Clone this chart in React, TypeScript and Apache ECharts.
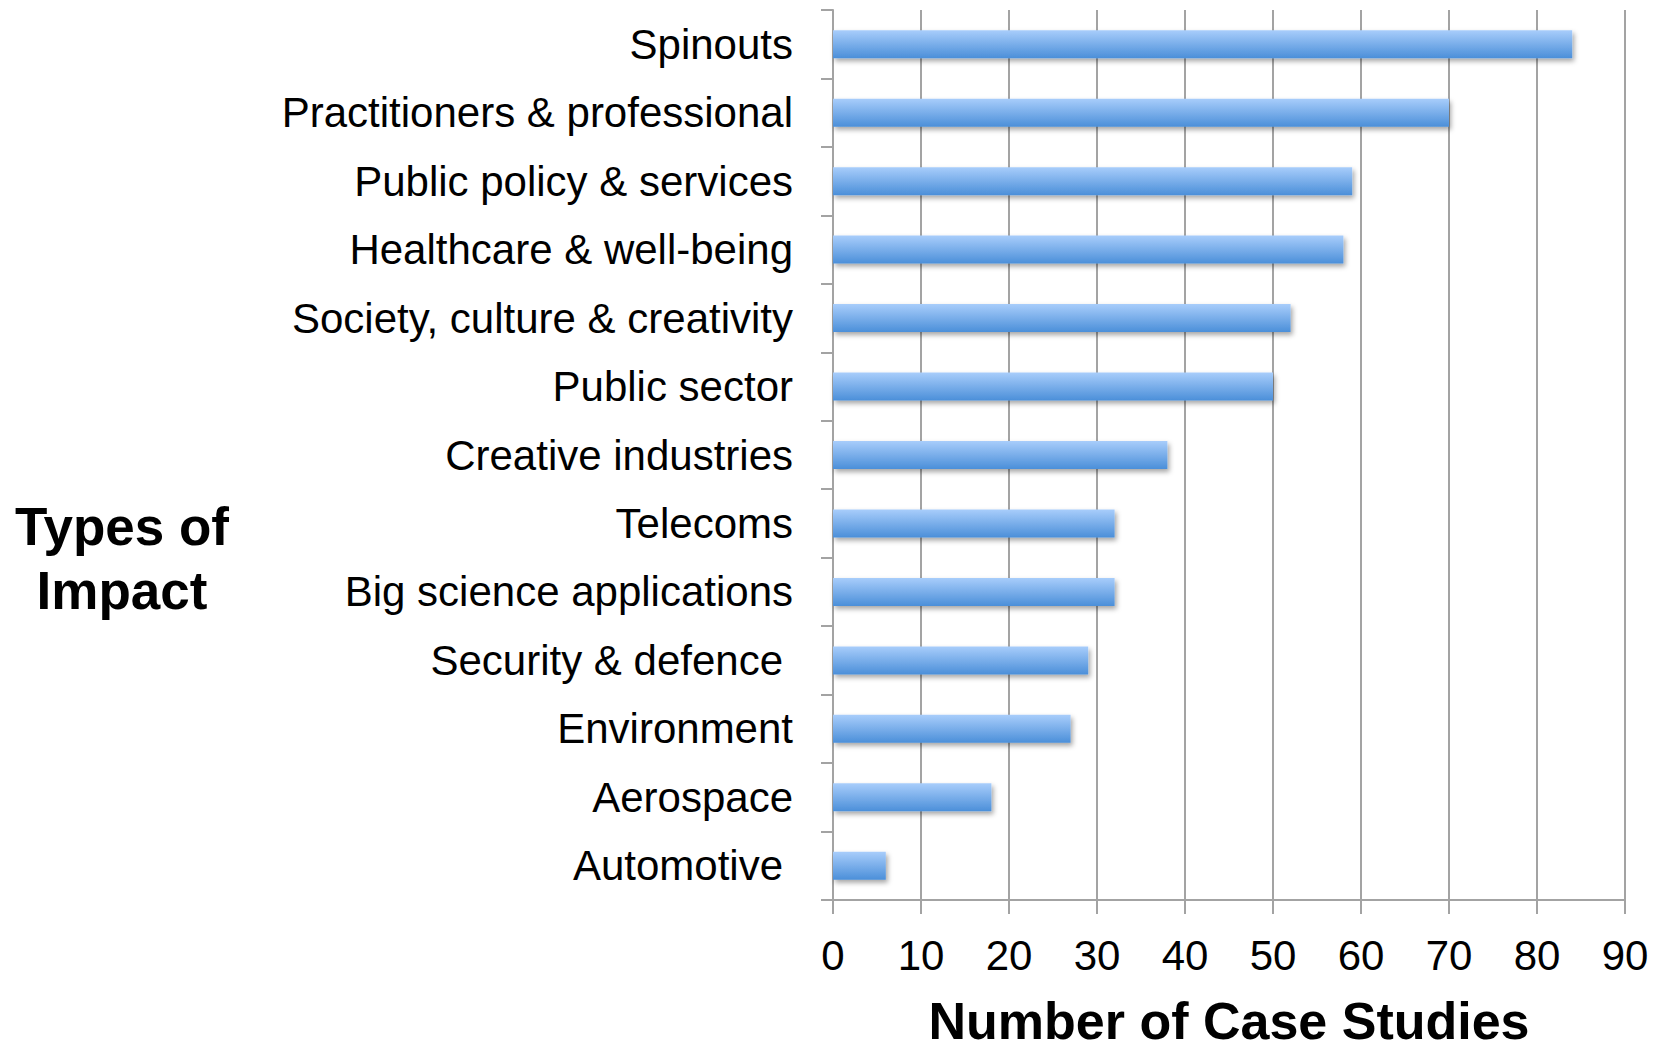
import React, { useEffect, useRef } from "react";
import * as echarts from "echarts";

const categories = [
  "Spinouts",
  "Practitioners & professional",
  "Public policy & services",
  "Healthcare & well-being",
  "Society, culture & creativity",
  "Public sector",
  "Creative industries",
  "Telecoms",
  "Big science applications",
  "Security & defence",
  "Environment",
  "Aerospace",
  "Automotive",
];
const caseStudies = [84, 70, 59, 58, 52, 50, 38, 32, 32, 29, 27, 18, 6];
// labels that sit slightly left (trailing space in the original)
const indentedLabels = ["Security & defence", "Automotive"];
const xTicks = { min: 0, max: 90, interval: 10 };
const xAxisTitle = "Number of Case Studies";
const yAxisTitle = "Types of\nImpact";

const FONT = "'Liberation Sans', Arial, Helvetica, sans-serif";
const GRAY = "#a3a3a3";

export default function App() {
  const ref = useRef<HTMLDivElement>(null);
  useEffect(() => {
    if (!ref.current) return;
    const chart = echarts.init(ref.current, null, { renderer: "svg" });
    chart.setOption({
      animation: false,
      backgroundColor: "#ffffff",
      grid: { left: 833, right: 36, top: 10, bottom: 142, containLabel: false },
      xAxis: {
        type: "value",
        min: xTicks.min,
        max: xTicks.max,
        interval: xTicks.interval,
        name: xAxisTitle,
        nameLocation: "middle",
        nameGap: 95,
        nameTextStyle: { fontFamily: FONT, fontSize: 52, fontWeight: "bold", color: "#000" },
        axisLine: { show: true, lineStyle: { color: GRAY, width: 2 } },
        axisTick: { show: true, length: 14, lineStyle: { color: GRAY, width: 2 } },
        axisLabel: { fontFamily: FONT, fontSize: 42, color: "#000", margin: 34 },
        splitLine: { show: true, lineStyle: { color: GRAY, width: 2 } },
      },
      yAxis: {
        type: "category",
        data: categories,
        inverse: true,
        axisLine: { show: true, lineStyle: { color: GRAY, width: 2 } },
        axisTick: { show: true, length: 12, alignWithLabel: false, lineStyle: { color: GRAY, width: 2 } },
        axisLabel: {
          fontFamily: FONT,
          fontSize: 42,
          color: "#000",
          margin: 40,
          formatter: (v: string) => (indentedLabels.includes(v) ? `{p|${v}}` : v),
          rich: {
            p: { fontFamily: FONT, fontSize: 42, color: "#000", padding: [0, 10, 0, 0] },
          },
        },
        splitLine: { show: false },
      },
      graphic: [
        {
          type: "text",
          x: 122,
          y: 494,
          style: {
            text: yAxisTitle,
            fontFamily: FONT,
            fontSize: 53,
            fontWeight: "bold",
            fill: "#000",
            align: "center",
            verticalAlign: "top",
            lineHeight: 64,
          },
        },
      ],
      series: [
        {
          type: "bar",
          data: caseStudies,
          barWidth: 28,
          itemStyle: {
            color: new echarts.graphic.LinearGradient(0, 0, 0, 1, [
              { offset: 0, color: "#a8cdfb" },
              { offset: 1, color: "#4b8fd9" },
            ]),
            shadowColor: "rgba(0,0,0,0.35)",
            shadowBlur: 5,
            shadowOffsetX: 2,
            shadowOffsetY: 3,
          },
        },
      ],
    });
    return () => chart.dispose();
  }, []);
  return (
    <div
      ref={ref}
      style={{ position: "fixed", left: 0, top: 0, width: 1661, height: 1052 }}
    />
  );
}
